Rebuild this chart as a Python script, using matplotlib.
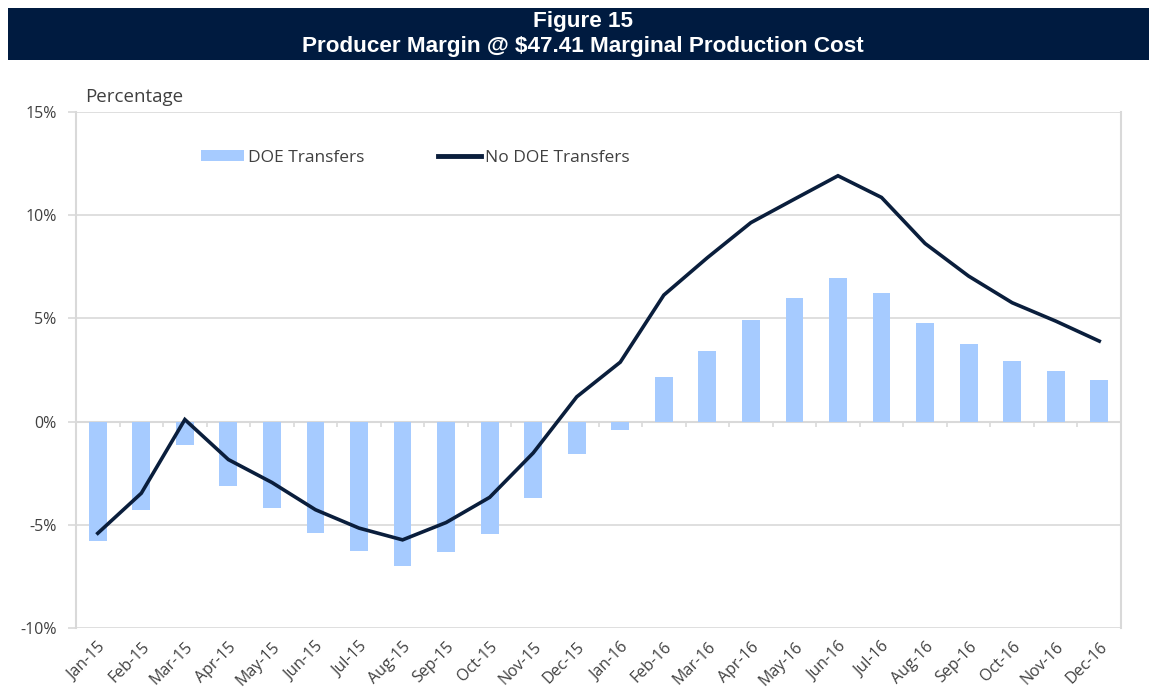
import matplotlib
matplotlib.use("Agg")
import matplotlib.pyplot as plt
import numpy as np
from matplotlib.patches import Rectangle, Patch
from matplotlib.lines import Line2D
from matplotlib.ticker import FuncFormatter

months = ["Jan-15", "Feb-15", "Mar-15", "Apr-15", "May-15", "Jun-15", "Jul-15", "Aug-15",
          "Sep-15", "Oct-15", "Nov-15", "Dec-15", "Jan-16", "Feb-16", "Mar-16", "Apr-16",
          "May-16", "Jun-16", "Jul-16", "Aug-16", "Sep-16", "Oct-16", "Nov-16", "Dec-16"]
doe_transfers = [-5.79, -4.30, -1.11, -3.12, -4.21, -5.39, -6.28, -6.99, -6.33, -5.45, -3.69, -1.59,
                 -0.40, 2.17, 3.43, 4.94, 5.97, 6.98, 6.25, 4.76, 3.77, 2.96, 2.43, 2.02]
no_doe_transfers = [-5.41, -3.47, 0.10, -1.84, -2.95, -4.27, -5.16, -5.73, -4.89, -3.67, -1.52, 1.20,
                    2.88, 6.13, 7.94, 9.64, 10.78, 11.91, 10.86, 8.63, 7.05, 5.76, 4.87, 3.90]
y_ticks = [-10, -5, 0, 5, 10, 15]

title_line1 = "Figure 15"
title_line2 = "Producer Margin @ $47.41 Marginal Production Cost"

W, H = 1149, 700
fig = plt.figure(figsize=(W / 100, H / 100), dpi=100)
fig.patch.set_facecolor("white")

text_font = ["Open Sans", "DejaVu Sans"]
title_font = ["Liberation Sans", "DejaVu Sans"]
text_col = "#404040"
grid_col = "#d9d9d9"
bar_col = "#a6cbff"
line_col = "#0a1e3c"
navy = "#001b40"

# Title banner
fig.patches.append(Rectangle((8 / W, 1 - 60 / H), 1 - 8 / W, 52 / H, transform=fig.transFigure,
                             facecolor=navy, edgecolor="none", zorder=0))
fig.text(583 / W, 1 - 21 / H, title_line1, color="white", fontsize=16.2, fontweight="bold",
         family=title_font, ha="center", va="center")
fig.text(583 / W, 1 - 46.5 / H, title_line2, color="white", fontsize=16.2, fontweight="bold",
         family=title_font, ha="center", va="center")

# Axes
left, right, top, bottom = 76, 1121, 112, 628
ax = fig.add_axes([left / W, 1 - bottom / H, (right - left) / W, (bottom - top) / H])
x = np.arange(len(months))

ax.set_xlim(-0.5, len(months) - 0.5)
ax.set_ylim(-10, 15)
ax.set_yticks(y_ticks)
ax.yaxis.set_major_formatter(FuncFormatter(lambda v, p: f"{int(v)}%".replace("\u2212", "-")))
ax.grid(axis="y", color=grid_col, linewidth=1.2, zorder=0)
ax.set_axisbelow(True)

ax.bar(x, doe_transfers, width=0.41, color=bar_col, zorder=2)
ax.axhline(0, color=grid_col, linewidth=1.5, zorder=1)
ax.vlines(x[:-1] + 0.5, 0, -0.25, color=grid_col, linewidth=1.2, zorder=1)
ax.plot(x, no_doe_transfers, color=line_col, linewidth=2.6, zorder=3, solid_joinstyle="miter")

for s in ["top", "bottom"]:
    ax.spines[s].set_visible(False)
for s in ["left", "right"]:
    ax.spines[s].set_color(grid_col)
    ax.spines[s].set_linewidth(1.5)

ax.set_xticks(x)
ax.set_xticklabels(months, rotation=45, ha="right", rotation_mode="anchor",
                   family=text_font, fontsize=11.5, color=text_col)
ax.tick_params(axis="x", length=0, pad=8)
ax.tick_params(axis="y", length=6, color=grid_col, width=1.2, pad=8,
               labelsize=11.5, labelcolor=text_col)
for t in ax.get_yticklabels():
    t.set_family(text_font)

fig.text(85 / W, 1 - 97 / H, "Percentage", family=text_font, fontsize=13.5, color=text_col,
         ha="left", va="center")

handles = [Patch(facecolor=bar_col, edgecolor="none"),
           Line2D([0], [0], color=line_col, linewidth=3.5)]
leg = ax.legend(handles, ["DOE Transfers", "No DOE Transfers"], ncol=2, frameon=False,
                loc="center left", bbox_to_anchor=(185 / W, 1 - 158 / H),
                bbox_transform=fig.transFigure, handlelength=2.5, handleheight=0.6,
                handletextpad=0.25, columnspacing=4.2,
                prop={"family": text_font, "size": 12.5})
for t in leg.get_texts():
    t.set_color(text_col)

fig.savefig("out.png", dpi=100)
